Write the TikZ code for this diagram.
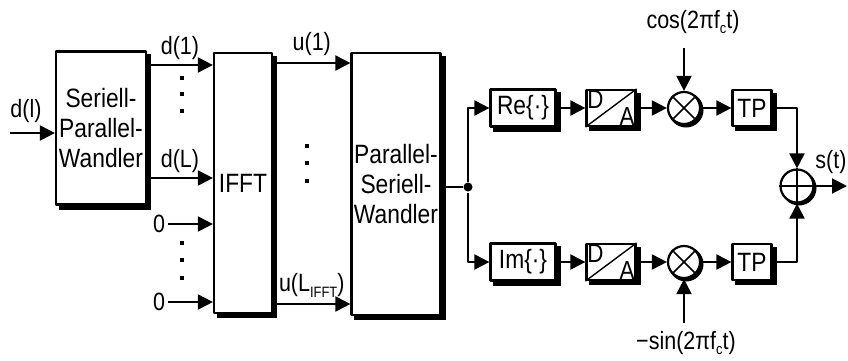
\documentclass[tikz,border=0pt]{standalone}
\usepackage{fontspec}
\setmainfont[FakeStretch=0.86]{Liberation Sans}
\usetikzlibrary{arrows.meta,backgrounds,positioning}
\newcommand\lowidx[1]{\raisebox{-0.45ex}{\fontsize{15}{15}\selectfont #1}}

\begin{document}
\begin{tikzpicture}[x=1pt,y=-1pt,line width=2pt,line join=round,
    >={Triangle[length=15pt,width=15pt]},
    font=\fontsize{25}{30}\selectfont,
    blk/.style={draw,line width=2.2pt,fill=white,inner sep=0pt,align=center,
      font=\fontsize{26.5}{30}\selectfont},
    da/.style={blk,minimum width=49pt,minimum height=36pt},
    tpbox/.style={blk,minimum width=39pt,minimum height=36pt},
    mix/.style={draw,circle,line width=2.2pt,fill=white,minimum size=32pt,inner sep=0pt},
    dot/.style={circle,fill,inner sep=0pt,minimum size=9pt},
    lbl/.style={inner sep=1pt}]
  \useasboundingbox (0,0) rectangle (848,360);

  % Bloecke
  \node[blk,minimum width=90pt,minimum height=153pt] (sp) at (101,128) {Seriell-\\Parallel-\\Wandler};
  \node[blk,minimum width=58pt,minimum height=260pt] (ifft) at (243,183) {IFFT};
  \node[blk,minimum width=89pt,minimum height=262pt] (ps) at (396,184) {Parallel-\\Seriell-\\Wandler};
  \node[blk,minimum width=65pt,minimum height=37pt] (re) at (523,108) {Re\{·\}};
  \node[blk,minimum width=65pt,minimum height=37pt] (im) at (523,262) {Im\{·\}};
  \node[da] (da1) at (611,108) {};
  \node[da] (da2) at (611,262) {};
  \node[mix] (mix1) at (684,108) {};
  \node[mix] (mix2) at (684,262) {};
  \node[tpbox] (tp1) at (752,108) {TP};
  \node[tpbox] (tp2) at (752,262) {TP};
  \node[mix,minimum size=33pt] (sum) at (797,186) {};
  \node[dot] (jn) at (468,187) {};

  % Schatten
  \begin{scope}[on background layer]
    \foreach \n in {sp,ifft,ps,re,im,da1,da2,tp1,tp2}
      \fill ([shift={(4,4)}]\n.north west) rectangle ([shift={(4,4)}]\n.south east);
    \foreach \n in {mix1,mix2,sum}
      \fill ([shift={(2,2)}]\n.center) circle (17.5);
  \end{scope}

  \foreach \n in {da1,da2} {
    \draw[line width=1.4pt] (\n.south west) -- (\n.north east);
    \node[lbl,anchor=north west,font=\fontsize{26}{26}\selectfont] (\n d) at (\n.north west) {D};
    \node[lbl,anchor=south east,font=\fontsize{26}{26}\selectfont] (\n a) at (\n.south east) {A};
  }
  \foreach \n in {mix1,mix2} {
    \draw[line width=1.5pt] (\n.north west) -- (\n.south east) (\n.south west) -- (\n.north east);
  }
  \draw[line width=1.5pt] (sum.north) -- (sum.south) (sum.west) -- (sum.east);

  % Eingang
  \coordinate (din) at (10,133);
  \draw[->] (din) -- (din -| sp.west);
  \node[lbl] (ldin) at (26,111) {d(l)};

  % S/P -> IFFT
  \draw[->] (sp.east |- 0,65) -- (ifft.west |- 0,65) node[lbl,midway,above=3pt] (ld1) {d(1)};
  \draw[->] (sp.east |- 0,178) -- (ifft.west |- 0,178) node[lbl,midway,above=3pt] (ldL) {d(L)};
  \coordinate (z1) at (168,224);
  \coordinate (z2) at (168,302);
  \foreach \z in {z1,z2} {
    \draw[->] (\z) -- (\z -| ifft.west);
    \node[lbl,left=1pt of \z] (l\z) {0};
  }
  \foreach \y in {78,94,111,243,260,278} \fill (180,\y-2) rectangle ++(4,4);

  % IFFT -> P/S
  \draw[->] (ifft.east |- 0,63) -- (ps.west |- 0,63) node[lbl,midway,above=5pt] (lu1) {u(1)};
  \draw[->] (ifft.east |- 0,304) -- (ps.west |- 0,304) node[lbl,midway,above=5pt] (luL) {u(L\lowidx{IFFT})};
  \foreach \y in {146,163,181} \fill (305,\y-2) rectangle ++(4,4);

  % Modulator
  \draw (ps.east |- jn) -- (jn);
  \draw[->] (jn) |- (re);
  \draw[->] (jn) |- (im);
  \draw[->] (re) -- (da1);
  \draw[->] (im) -- (da2);
  \draw[->] (da1) -- (mix1);
  \draw[->] (da2) -- (mix2);
  \draw[->] (mix1) -- (tp1);
  \draw[->] (mix2) -- (tp2);
  \draw[->] (tp1) -| (sum);
  \draw[->] (tp2) -| (sum);

  \coordinate (c1) at (684,48);
  \coordinate (c2) at (684,323);
  \draw[->] (c1) -- (mix1);
  \draw[->] (c2) -- (mix2);
  \node[lbl] (lcos) at (693,22) {cos(2πf\lowidx{c}t)};
  \node[lbl] (lsin) at (686,343) {−sin(2πf\lowidx{c}t)};

  \coordinate (sout) at (847,186);
  \draw[->] (sum) -- (sout);
  \node[lbl] (ls) at (831,162) {s(t)};
\end{tikzpicture}
\end{document}
